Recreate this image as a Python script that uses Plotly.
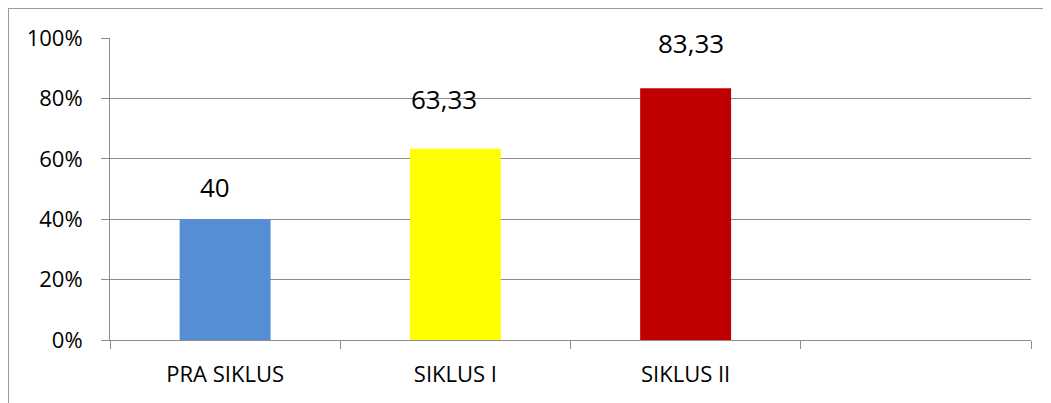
import plotly.graph_objects as go

# ---- data ----
categories = ["PRA SIKLUS", "SIKLUS I", "SIKLUS II", " "]
values = [40, 63.33, 83.33, None]
bar_colors = ["#558ED5", "#FFFF00", "#C00000", "#FFFFFF"]
y_tick_vals = [0, 20, 40, 60, 80, 100]
y_tick_text = ["0%", "20%", "40%", "60%", "80%", "100%"]

# label nudges (pixels) as placed in the original chart
label_xshift = [-10, -11, 5]
label_yshift = [32, 50, 45]

FONT = "Open Sans"
GRID = "#8C8C8C"
L, R, T, B = 102, 28, 30, 71

fig = go.Figure()
fig.add_trace(go.Bar(
    x=categories,
    y=values,
    marker=dict(color=bar_colors, line=dict(width=0)),
    hoverinfo="skip",
    showlegend=False,
))

for i, v in enumerate(values):
    if v is None:
        continue
    txt = f"{v:g}".replace(".", ",")
    fig.add_annotation(
        x=categories[i], y=v, text=txt, showarrow=False,
        xanchor="center", yanchor="middle",
        xshift=label_xshift[i], yshift=label_yshift[i],
        font=dict(family=FONT, size=26, color="#000000"),
    )

# outer chart frame (left and top edges of the chart area)
plot_h = 403 - T - B
fig.add_shape(type="line", xref="paper", yref="paper",
              xsizemode="pixel", ysizemode="pixel",
              xanchor=0, yanchor=0, x0=-L + 0.5, x1=-L + 0.5, y0=-B - 10, y1=plot_h + T - 0.5,
              line=dict(color="#9A9A9A", width=1))
fig.add_shape(type="line", xref="paper", yref="paper",
              xsizemode="pixel", ysizemode="pixel",
              xanchor=0, yanchor=0, x0=-L, x1=1051, y0=plot_h + T - 0.5, y1=plot_h + T - 0.5,
              line=dict(color="#9A9A9A", width=1))

fig.update_layout(
    width=1051, height=403,
    margin=dict(l=L, r=R, t=T, b=B),
    paper_bgcolor="white", plot_bgcolor="white",
    bargap=0.605,
    font=dict(family=FONT, size=22, color="#000000"),
)
fig.update_xaxes(
    type="category", categoryorder="array", categoryarray=categories,
    range=[-0.5, 3.5], tickson="boundaries", ticks="outside", ticklen=8,
    tickcolor=GRID, tickwidth=1,
    showline=True, linecolor=GRID, linewidth=1,
    showgrid=False, zeroline=False,
    tickfont=dict(family=FONT, size=22, color="#000000"),
    ticklabelstandoff=15,
)
fig.update_yaxes(
    range=[0, 100], tickmode="array", tickvals=y_tick_vals, ticktext=y_tick_text,
    ticks="outside", ticklen=8, tickcolor=GRID, tickwidth=1,
    showline=True, linecolor=GRID, linewidth=1,
    showgrid=True, gridcolor=GRID, gridwidth=1, zeroline=False,
    tickfont=dict(family=FONT, size=22, color="#000000"),
    ticklabelstandoff=14,
)

fig.write_html("out.html")
